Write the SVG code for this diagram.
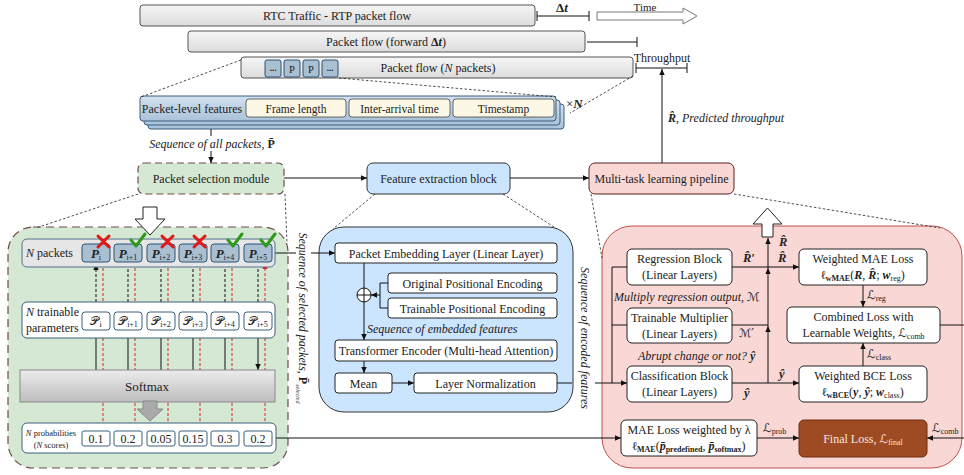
<svg xmlns="http://www.w3.org/2000/svg" width="964" height="475" viewBox="0 0 964 475" font-size="12">
<style>
text{font-family:"Liberation Serif","DejaVu Serif",serif;fill:#222}
.c{text-anchor:middle}
.it{font-style:italic}
.bi{font-style:italic;font-weight:bold}
.m{font-family:"DejaVu Sans","Liberation Serif",serif}
.ln{stroke:#111;stroke-width:1;fill:none}
.dl{stroke:#222;stroke-width:0.8;fill:none;stroke-dasharray:2.5 2}
.top{fill:url(#gGray);stroke:#555;stroke-width:1}
.pb{fill:#a9bfd2;stroke:#2e5373;stroke-width:1}
.wb{fill:#fff;stroke:#222;stroke-width:1}
.nb{fill:#fff;stroke:#3d5f7c;stroke-width:1}
.cream{fill:#fdf8e6;stroke:#444;stroke-width:0.8}
.red{stroke:#e02020;stroke-width:1;stroke-dasharray:3 2;fill:none}
.bd{stroke:#111;stroke-width:1;stroke-dasharray:3 2;fill:none}
.xm{stroke:#e01818;stroke-width:3;stroke-linecap:round}
.ck{stroke:#2f9a1a;stroke-width:3;fill:none;stroke-linecap:round;stroke-linejoin:round}
</style>
<defs>
<linearGradient id="gGray" x1="0" y1="0" x2="0" y2="1"><stop offset="0" stop-color="#f6f6f6"/><stop offset="1" stop-color="#dcdcdc"/></linearGradient>
<linearGradient id="gSoft" x1="0" y1="0" x2="0" y2="1"><stop offset="0" stop-color="#ececec"/><stop offset="1" stop-color="#bdbdbd"/></linearGradient>
<linearGradient id="gStack" x1="0" y1="0" x2="0" y2="1"><stop offset="0" stop-color="#d3e1ee"/><stop offset="1" stop-color="#a9c2d8"/></linearGradient>
<marker id="a" viewBox="0 0 10 10" refX="10" refY="5" markerWidth="6" markerHeight="6" orient="auto-start-reverse"><path d="M0,0.5 L10,5 L0,9.5 z" fill="#111"/></marker>
<marker id="ar" viewBox="0 0 10 10" refX="10" refY="5" markerWidth="6" markerHeight="6" orient="auto-start-reverse"><path d="M0,0.5 L10,5 L0,9.5 z" fill="#e02020"/></marker>
</defs>

<!-- top flows -->
<g id="rtc">
<rect x="140" y="5" width="395" height="21" rx="3" class="top"/>
<text x="337" y="20" class="c">RTC Traffic - RTP packet flow</text>
</g>
<g id="deltaT">
<path d="M537,16 H589 M537,11 V21 M589,11 V21" class="ln"/>
<text x="562" y="12" class="c" font-size="13"><tspan font-weight="bold">Δ</tspan><tspan class="bi">t</tspan></text>
</g>
<g id="time">
<polygon points="597,12 683,12 683,8 697,16 683,24 683,20 597,20" fill="#fff" stroke="#777" stroke-width="1"/>
<text x="645" y="11" class="c" font-size="11">Time</text>
</g>
<g id="forward">
<rect x="188" y="31" width="397" height="21" rx="3" class="top"/>
<text x="386" y="46" class="c">Packet flow (forward <tspan font-weight="bold">Δ</tspan><tspan class="bi">t</tspan>)</text>
<path d="M587,42 H637 M637,37 V47" class="ln"/>
</g>
<g id="npackets-flow">
<rect x="241" y="57" width="392" height="21" rx="3" class="top"/>
<rect x="265" y="60" width="16" height="17" rx="2" class="pb"/>
<rect x="284" y="60" width="16" height="17" rx="2" class="pb"/>
<rect x="303" y="60" width="16" height="17" rx="2" class="pb"/>
<rect x="322" y="60" width="16" height="17" rx="2" class="pb"/>
<text x="273" y="71" class="c" font-weight="bold" font-size="9">...</text>
<text x="292" y="72.5" class="c" font-size="10.5">P</text>
<text x="311" y="72.5" class="c" font-size="10.5">P</text>
<text x="330" y="71" class="c" font-weight="bold" font-size="9">...</text>
<text x="438" y="72" class="c">Packet flow (<tspan class="it">N</tspan> packets)</text>
</g>
<g id="throughput">
<text x="662" y="62" class="c">Throughput</text>
<path d="M636,68 H687 M636,63 V73 M687,63 V73" class="ln"/>
</g>
<g id="features-stack">
<rect x="148" y="104" width="416" height="25" rx="3" fill="url(#gStack)" stroke="#3a5f80"/>
<rect x="144" y="100" width="416" height="25" rx="3" fill="url(#gStack)" stroke="#3a5f80"/>
<rect x="140" y="96" width="416" height="25" rx="3" fill="url(#gStack)" stroke="#3a5f80"/>
<text x="192" y="112.5" class="c">Packet-level features</text>
<rect x="246" y="99" width="100" height="18" rx="3" class="cream"/>
<rect x="349" y="99" width="101" height="18" rx="3" class="cream"/>
<rect x="453" y="99" width="101" height="18" rx="3" class="cream"/>
<text x="296" y="112.5" class="c" font-size="11.5">Frame length</text>
<text x="399.5" y="112.5" class="c" font-size="11.5">Inter-arrival time</text>
<text x="503.5" y="112.5" class="c" font-size="11.5">Timestamp</text>
<text x="566" y="108" font-size="13">×<tspan class="bi">N</tspan></text>
</g>

<!-- main blocks -->
<g id="packet-selection">
<rect x="138" y="163" width="146" height="31" rx="6" fill="#d5e8d4" stroke="#6d4c48" stroke-width="1.2" stroke-dasharray="7 4"/>
<text x="211" y="182.5" class="c">Packet selection module</text>
</g>
<g id="feature-extraction">
<rect x="367" y="163" width="143" height="31" rx="6" fill="#cce5ff" stroke="#333"/>
<text x="438.5" y="182.5" class="c">Feature extraction block</text>
</g>
<g id="multitask">
<rect x="589" y="163" width="145" height="31" rx="6" fill="#f8d7d5" stroke="#5a2020"/>
<text x="661.5" y="182.5" class="c">Multi-task learning pipeline</text>
</g>

<!-- panels -->
<g id="green-panel">
<rect x="8" y="227" width="280" height="241" rx="25" fill="#d5e8d4" stroke="#6d4c48" stroke-width="1.2" stroke-dasharray="8 5"/>
<polygon points="143,207 157,207 157,219 165,219 150,235 135,219 143,219" fill="#fff" stroke="#222"/>
</g>
<g id="blue-panel">
<rect x="319" y="227" width="254" height="185" rx="25" fill="#cce5ff" stroke="#333"/>
</g>
<g id="pink-panel">
<rect x="602" y="226" width="360" height="242" rx="30" fill="#f8d7d5" stroke="#c0504d"/>
<polygon points="762,237 773,237 773,224 782,224 767.5,208 753,224 762,224" fill="#fff" stroke="#222"/>
</g>

<!-- connectors -->
<g id="connectors">
<path d="M241,60 L141,97 M339,78 L556,97 M633,76 L570,113" class="dl"/>
<path d="M211,129 V136" class="ln"/>
<path d="M211,151 V163" class="ln" marker-end="url(#a)"/>
<path d="M284,178 H367" class="ln" marker-end="url(#a)"/>
<path d="M510,178 H589" class="ln" marker-end="url(#a)"/>
<path d="M662,163 V69" class="ln" marker-end="url(#a)"/>
<path d="M138,194 L36,228 M285,194 L287,244 M375,194 L333,229 M503,194 L557,229 M591,194 L602,258 M734,194 L940,228" class="dl"/>
<path d="M103,431 V263 M135,431 V263 M168,431 V263 M200,431 V263 M232,431 V263 M265,431 V263" class="red" marker-end="url(#ar)"/>
<path d="M96,264 V311 M128,264 V311 M161,264 V311 M193,264 V311 M225,264 V311 M258,264 V311" class="bd" marker-start="url(#a)" marker-end="url(#a)"/>
<path d="M96,330 V370 M128,330 V370 M161,330 V370 M193,330 V370 M225,330 V370 M258,330 V370" class="ln" marker-end="url(#a)"/>
<path d="M275,253 H296 M311,253 H335" class="ln" marker-end="url(#a)"/>
<path d="M276,438 H621" class="ln" marker-end="url(#a)"/>
<path d="M364,263 V288" class="ln"/>
<path d="M388,283 H380 V308 H388" class="ln"/>
<path d="M380,295 H371" class="ln" marker-end="url(#a)"/>
<path d="M364,302 V340" class="ln" marker-end="url(#a)"/>
<path d="M364,361 V373" class="ln" marker-end="url(#a)"/>
<path d="M392,383 H414" class="ln" marker-end="url(#a)"/>
<path d="M557,383 H572 M595,383 H612 M612,267 V383" class="ln"/>
<path d="M612,267 H627 M612,325 H627 M612,383 H627" class="ln" marker-end="url(#a)"/>
<path d="M732,267 H799" class="ln" marker-end="url(#a)"/>
<path d="M732,383 H799" class="ln" marker-end="url(#a)"/>
<path d="M732,325 H768" class="ln"/>
<path d="M768,383 V326" class="ln" marker-end="url(#a)"/>
<path d="M768,326 V268" class="ln" marker-end="url(#a)"/>
<path d="M768,268 V238" class="ln" marker-end="url(#a)"/>
<path d="M863,285 V307" class="ln" marker-end="url(#a)"/>
<path d="M863,366 V343" class="ln" marker-end="url(#a)"/>
<path d="M940,325 H964" class="ln"/>
<path d="M964,438 H927" class="ln" marker-end="url(#a)"/>
<path d="M757,438 H799" class="ln" marker-end="url(#a)"/>
</g>

<!-- labels -->
<text x="212" y="148" class="c it">Sequence of all packets, <tspan font-weight="bold" font-style="normal">P̄</tspan></text>
<text x="668" y="122" class="it"><tspan font-weight="bold">R̂</tspan>, Predicted throughput</text>
<text transform="rotate(90 299 318)" x="299" y="318" class="c it">Sequence of selected packets, <tspan font-style="normal" font-weight="bold">P̄</tspan><tspan font-size="6" dy="3">selected</tspan></text>
<text transform="rotate(90 581 338)" x="581" y="338" class="c it">Sequence of encoded features</text>

<!-- green internals -->
<g id="npackets-row">
<rect x="22" y="239" width="253" height="28" rx="5" fill="#e6e6e6" stroke="#50708c"/>
<text x="26" y="257"><tspan class="it">N</tspan> packets</text>
<rect x="82" y="244" width="28" height="18" rx="3" class="pb"/>
<rect x="114" y="244" width="28" height="18" rx="3" class="pb"/>
<rect x="147" y="244" width="28" height="18" rx="3" class="pb"/>
<rect x="179" y="244" width="28" height="18" rx="3" class="pb"/>
<rect x="211" y="244" width="28" height="18" rx="3" class="pb"/>
<rect x="244" y="244" width="28" height="18" rx="3" class="pb"/>
<text x="96" y="258" class="c"><tspan class="bi" font-size="13">P</tspan><tspan font-size="8" dy="2">i</tspan></text>
<text x="128" y="258" class="c"><tspan class="bi" font-size="13">P</tspan><tspan font-size="8" dy="2">i+1</tspan></text>
<text x="161" y="258" class="c"><tspan class="bi" font-size="13">P</tspan><tspan font-size="8" dy="2">i+2</tspan></text>
<text x="193" y="258" class="c"><tspan class="bi" font-size="13">P</tspan><tspan font-size="8" dy="2">i+3</tspan></text>
<text x="225" y="258" class="c"><tspan class="bi" font-size="13">P</tspan><tspan font-size="8" dy="2">i+4</tspan></text>
<text x="258" y="258" class="c"><tspan class="bi" font-size="13">P</tspan><tspan font-size="8" dy="2">i+5</tspan></text>
<path d="M98,236 L109,247 M109,236 L98,247 M162,236 L173,247 M173,236 L162,247 M194,236 L205,247 M205,236 L194,247" class="xm"/>
<path d="M131,240 L136,246 L145,234 M228,240 L233,246 L242,234 M261,240 L266,246 L275,234" class="ck"/>
</g>
<g id="trainable-row">
<rect x="22" y="302" width="253" height="36" rx="5" class="nb"/>
<text x="26" y="316"><tspan class="it">N</tspan> trainable</text>
<text x="26" y="332">parameters</text>
<rect x="82" y="312" width="28" height="18" rx="3" class="nb"/>
<rect x="114" y="312" width="28" height="18" rx="3" class="nb"/>
<rect x="147" y="312" width="28" height="18" rx="3" class="nb"/>
<rect x="179" y="312" width="28" height="18" rx="3" class="nb"/>
<rect x="211" y="312" width="28" height="18" rx="3" class="nb"/>
<rect x="244" y="312" width="28" height="18" rx="3" class="nb"/>
<text x="96" y="325" class="c"><tspan class="m" font-size="12">𝒫</tspan><tspan font-size="8" dy="2">i</tspan></text>
<text x="128" y="325" class="c"><tspan class="m" font-size="12">𝒫</tspan><tspan font-size="8" dy="2">i+1</tspan></text>
<text x="161" y="325" class="c"><tspan class="m" font-size="12">𝒫</tspan><tspan font-size="8" dy="2">i+2</tspan></text>
<text x="193" y="325" class="c"><tspan class="m" font-size="12">𝒫</tspan><tspan font-size="8" dy="2">i+3</tspan></text>
<text x="225" y="325" class="c"><tspan class="m" font-size="12">𝒫</tspan><tspan font-size="8" dy="2">i+4</tspan></text>
<text x="258" y="325" class="c"><tspan class="m" font-size="12">𝒫</tspan><tspan font-size="8" dy="2">i+5</tspan></text>
</g>
<g id="softmax">
<rect x="20" y="370" width="255" height="32" fill="url(#gSoft)" stroke="#888"/>
<text x="147" y="391" class="c" font-size="13">Softmax</text>
<polygon points="143,401 157,401 157,409 163,409 150,421 137,409 143,409" fill="#aaa" stroke="#888"/>
</g>
<g id="prob-row">
<rect x="22" y="423" width="254" height="30" rx="5" class="nb"/>
<text x="51" y="436" class="c" font-size="8.5"><tspan class="it">N</tspan> probabilities</text>
<text x="51" y="448" class="c" font-size="8.5">(<tspan class="it">N</tspan> scores)</text>
<rect x="82" y="431" width="28" height="15" rx="2" class="nb"/>
<rect x="114" y="431" width="28" height="15" rx="2" class="nb"/>
<rect x="147" y="431" width="28" height="15" rx="2" class="nb"/>
<rect x="179" y="431" width="28" height="15" rx="2" class="nb"/>
<rect x="211" y="431" width="28" height="15" rx="2" class="nb"/>
<rect x="244" y="431" width="28" height="15" rx="2" class="nb"/>
<text x="96" y="443" class="c">0.1</text>
<text x="128" y="443" class="c">0.2</text>
<text x="161" y="443" class="c">0.05</text>
<text x="193" y="443" class="c">0.15</text>
<text x="225" y="443" class="c">0.3</text>
<text x="258" y="443" class="c">0.2</text>
</g>

<!-- blue internals -->
<g id="embedding">
<rect x="335" y="243" width="222" height="20" rx="3" class="wb"/>
<text x="446" y="257.5" class="c">Packet Embedding Layer (Linear Layer)</text>
</g>
<g id="ope">
<rect x="388" y="273" width="169" height="20" rx="3" class="wb"/>
<text x="472.5" y="287.5" class="c">Original Positional Encoding</text>
</g>
<g id="tpe">
<rect x="388" y="298" width="169" height="20" rx="3" class="wb"/>
<text x="472.5" y="312.5" class="c">Trainable Positional Encoding</text>
</g>
<g id="plus">
<circle cx="364" cy="295" r="7" fill="#fff" stroke="#111"/>
<path d="M357,295 H371 M364,288 V302" class="ln"/>
</g>
<text x="367" y="333" class="it">Sequence of embedded features</text>
<g id="transformer">
<rect x="335" y="340" width="222" height="21" rx="3" class="wb"/>
<text x="446" y="355" class="c">Transformer Encoder (Multi-head Attention)</text>
</g>
<g id="mean">
<rect x="335" y="373" width="57" height="20" rx="3" class="wb"/>
<text x="363.5" y="387.5" class="c">Mean</text>
</g>
<g id="layernorm">
<rect x="414" y="373" width="143" height="20" rx="3" class="wb"/>
<text x="485.5" y="387.5" class="c">Layer Normalization</text>
</g>

<!-- pink internals -->
<g id="regression">
<rect x="627" y="249" width="105" height="36" rx="5" class="wb"/>
<text x="679.5" y="263" class="c">Regression Block</text>
<text x="679.5" y="279" class="c">(Linear Layers)</text>
</g>
<g id="multiplier">
<rect x="627" y="308" width="105" height="35" rx="5" class="wb"/>
<text x="679.5" y="322" class="c">Trainable Multiplier</text>
<text x="679.5" y="338" class="c">(Linear Layers)</text>
</g>
<g id="classification">
<rect x="627" y="366" width="105" height="36" rx="5" class="wb"/>
<text x="679.5" y="380" class="c">Classification Block</text>
<text x="679.5" y="396" class="c">(Linear Layers)</text>
</g>
<g id="wmae">
<rect x="799" y="249" width="128" height="36" rx="5" class="wb"/>
<text x="863" y="263" class="c">Weighted MAE Loss</text>
<text x="863" y="279" class="c"><tspan font-weight="bold">ℓ</tspan><tspan font-size="8" font-weight="bold" dy="2">wMAE</tspan><tspan dy="-2">(</tspan><tspan class="bi">R</tspan>, <tspan class="bi">R̂</tspan>; <tspan class="bi">w</tspan><tspan font-size="8" dy="2">reg</tspan><tspan dy="-2">)</tspan></text>
</g>
<g id="combined">
<rect x="787" y="307" width="153" height="36" rx="5" class="wb"/>
<text x="863.5" y="321" class="c">Combined Loss with</text>
<text x="863.5" y="337" class="c">Learnable Weights, <tspan class="m">ℒ</tspan><tspan font-size="8" dy="2">comb</tspan></text>
</g>
<g id="wbce">
<rect x="799" y="366" width="128" height="36" rx="5" class="wb"/>
<text x="863" y="380" class="c">Weighted BCE Loss</text>
<text x="863" y="396" class="c"><tspan font-weight="bold">ℓ</tspan><tspan font-size="8" font-weight="bold" dy="2">wBCE</tspan><tspan dy="-2">(</tspan><tspan class="bi">y</tspan>, <tspan class="bi">ŷ</tspan>; <tspan class="bi">w</tspan><tspan font-size="8" dy="2">class</tspan><tspan dy="-2">)</tspan></text>
</g>
<g id="mae-lambda">
<rect x="621" y="420" width="136" height="36" rx="5" class="wb"/>
<text x="689" y="434" class="c">MAE Loss weighted by λ</text>
<text x="689" y="450" class="c"><tspan font-weight="bold">ℓ</tspan><tspan font-size="8" font-weight="bold" dy="2">MAE</tspan><tspan dy="-2">(</tspan><tspan class="bi">p̄</tspan><tspan font-size="8" font-weight="bold" dy="2">predefined</tspan><tspan dy="-2">, </tspan><tspan class="bi">p̄</tspan><tspan font-size="8" font-weight="bold" dy="2">softmax</tspan><tspan dy="-2">)</tspan></text>
</g>
<g id="final-loss">
<rect x="799" y="420" width="128" height="37" rx="5" fill="#9e4b24" stroke="#6b2e12"/>
<text x="863" y="443" class="c" style="fill:#f5e6da">Final Loss, <tspan class="m" style="fill:#f5e6da">ℒ</tspan><tspan font-size="8" dy="2" style="fill:#f5e6da">final</tspan></text>
</g>

<!-- pink labels -->
<text x="779" y="246" class="bi" font-size="12.5">R̂</text>
<text x="743" y="262" class="bi" font-size="12.5">R̂′</text>
<text x="778" y="262" class="bi" font-size="12.5">R̂</text>
<text x="614" y="301" class="it">Multiply regression output, <tspan class="m" font-style="normal">ℳ</tspan></text>
<text x="739" y="337" class="m" font-size="11.5">ℳ′</text>
<text x="638" y="360" class="it">Abrupt change or not?  <tspan class="bi">ŷ</tspan></text>
<text x="779" y="378" class="bi" font-size="12.5">ŷ</text>
<text x="744" y="397" class="bi" font-size="12.5">ŷ</text>
<text x="867" y="299"><tspan class="m">ℒ</tspan><tspan font-size="8" dy="2">reg</tspan></text>
<text x="867" y="358"><tspan class="m">ℒ</tspan><tspan font-size="8" dy="2">class</tspan></text>
<text x="763" y="432"><tspan class="m">ℒ</tspan><tspan font-size="8" dy="2">prob</tspan></text>
<text x="932" y="432"><tspan class="m">ℒ</tspan><tspan font-size="8" dy="2">comb</tspan></text>
</svg>
